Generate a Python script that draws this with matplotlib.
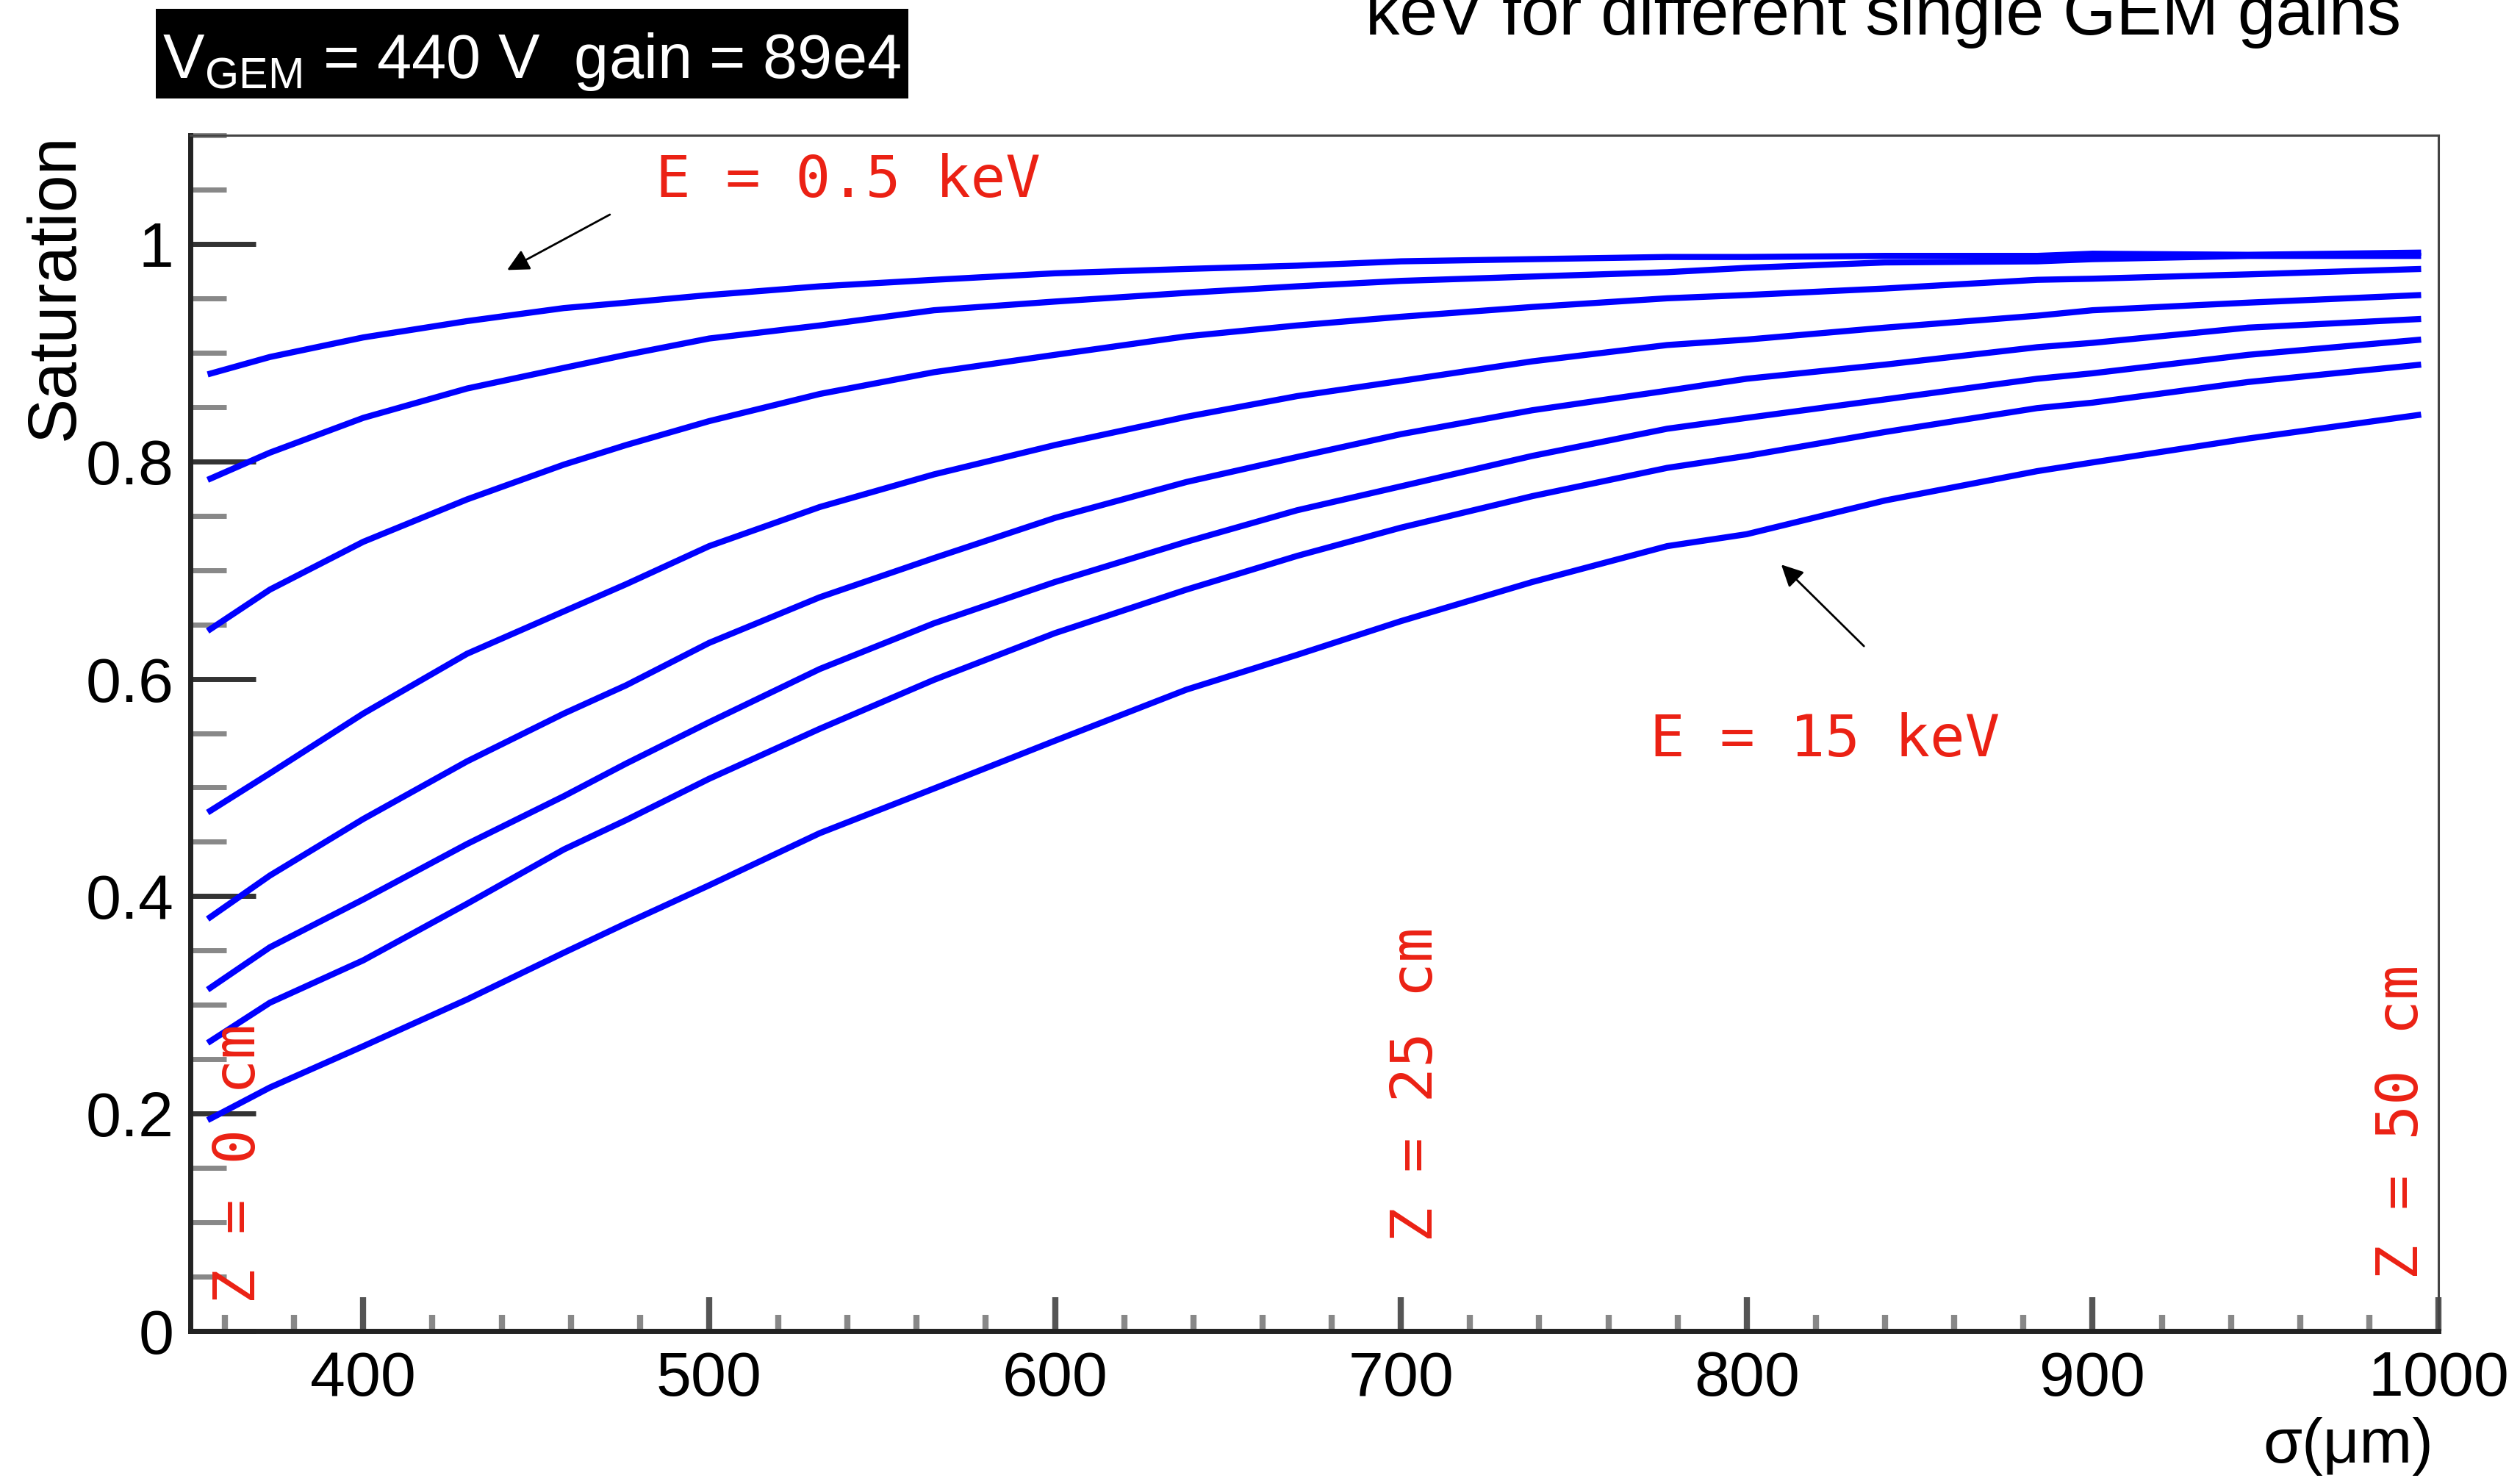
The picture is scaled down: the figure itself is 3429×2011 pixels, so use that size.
"""Saturation vs sigma for several X-ray energies (V_GEM = 440 V)."""

import matplotlib
matplotlib.use("Agg")
import matplotlib.pyplot as plt
from matplotlib.patches import Rectangle
from matplotlib.ticker import MultipleLocator

plt.rcParams["font.family"] = ["Liberation Sans", "DejaVu Sans"]
plt.rcParams["mathtext.fontset"] = "custom"
plt.rcParams["mathtext.rm"] = "Liberation Sans"

# --- data --------------------------------------------------------------
sigma = [355, 373, 400, 430, 458, 476, 500, 532, 565, 600, 638, 670,
         700, 738, 777, 800, 840, 884, 900, 945, 995]

sat_05kev = [.880, .896, .914, .929, .941, .946, .953, .961, .967, .973, .977, .980,
             .984, .986, .988, .988, .989, .989, .991, .990, .992]
sat_2 = [.783, .808, .840, .867, .886, .898, .913, .925, .939, .947, .955, .961,
         .966, .970, .974, .978, .983, .984, .986, .989, .989]
sat_3 = [.644, .682, .726, .765, .797, .815, .837, .862, .882, .898, .915, .925,
         .933, .942, .950, .953, .959, .967, .968, .972, .977]
sat_4 = [.477, .513, .568, .623, .662, .687, .722, .758, .788, .815, .841, .860,
         .874, .892, .907, .912, .923, .934, .939, .946, .953]
sat_5 = [.379, .419, .471, .524, .568, .594, .633, .675, .711, .748, .781, .804,
         .825, .847, .865, .876, .889, .905, .909, .923, .931]
sat_6 = [.314, .353, .397, .448, .492, .522, .560, .609, .651, .689, .726, .755,
         .777, .805, .830, .840, .857, .876, .881, .898, .912]
sat_7 = [.265, .302, .341, .393, .443, .470, .508, .554, .599, .642, .682, .713,
         .739, .768, .794, .805, .827, .849, .854, .873, .889]
sat_15kev = [.194, .224, .262, .305, .348, .375, .410, .458, .499, .543, .590, .622,
             .653, .689, .722, .733, .764, .791, .799, .821, .843]

curves = [sat_05kev, sat_2, sat_3, sat_4, sat_5, sat_6, sat_7, sat_15kev]

x_ticks = [400, 500, 600, 700, 800, 900, 1000]
y_ticks = [0, 0.2, 0.4, 0.6, 0.8, 1]
y_tick_labels = ["0", "0.2", "0.4", "0.6", "0.8", "1"]

RED = "#eb2114"
W, H = 3430, 2011

fig = plt.figure(figsize=(W / 100, H / 100), dpi=100)
ax = fig.add_axes([259 / W, 1 - 1811 / H, (3318 - 259) / W, (1811 - 184) / H])

for ys in curves:
    ax.plot(sigma, ys, color="#0000ff", lw=6, solid_capstyle="butt",
            solid_joinstyle="round")

ax.set_xlim(350, 1000)
ax.set_ylim(0, 1.1)
ax.set_xticks(x_ticks)
ax.set_yticks(y_ticks)
ax.set_yticklabels(y_tick_labels)
ax.xaxis.set_minor_locator(MultipleLocator(20))
ax.yaxis.set_minor_locator(MultipleLocator(0.05))

ax.tick_params(axis="y", which="major", direction="in", length=64, width=5,
               color="#333333", labelsize=62, pad=16)
ax.tick_params(axis="y", which="minor", direction="in", length=35, width=5,
               color="#888888")
ax.tick_params(axis="x", which="major", direction="in", length=33, width=6,
               color="#555555", labelsize=62, pad=19)
ax.tick_params(axis="x", which="minor", direction="in", length=16, width=6,
               color="#888888")

for side in ("left", "bottom"):
    ax.spines[side].set_linewidth(5)
    ax.spines[side].set_color("#222222")
for side in ("top", "right"):
    ax.spines[side].set_linewidth(2.2)
    ax.spines[side].set_color("#444444")

# axis titles
fig.text(100 / W, 1 - 181 / H, "Saturation", rotation=90, rotation_mode="anchor",
         ha="right", va="baseline", fontsize=66)
fig.text(3311 / W, 1 - 1990 / H, "σ(μm)", ha="right", va="baseline", fontsize=62)

# annotations
mono = dict(family="DejaVu Sans Mono", fontsize=57, color=RED, clip_on=False)
ax.text(484.5, 1.043, "E = 0.5 keV", ha="left", va="baseline", **mono)
ax.text(772.1, 0.529, "E = 15 keV", ha="left", va="baseline", **mono)
for x, y, lab in [(368.7, 0.025, "Z = 0 cm"), (709.0, 0.082, "Z = 25 cm"),
                  (994.0, 0.047, "Z = 50 cm")]:
    ax.text(x, y, lab, rotation=90, rotation_mode="anchor",
            ha="left", va="baseline", **mono)

arrow = dict(arrowstyle="-|>", color="black", lw=2, mutation_scale=45,
             shrinkA=0, shrinkB=0)
ax.annotate("", xy=(441.6, 0.976), xytext=(471.3, 1.027),
            arrowprops=arrow, annotation_clip=False)
ax.annotate("", xy=(810.0, 0.705), xytext=(833.9, 0.630),
            arrowprops=arrow, annotation_clip=False)

# black label box top-left
fig.patches.append(Rectangle((212 / W, 1 - 134 / H), (1236 - 212) / W, 122 / H,
                             transform=fig.transFigure, facecolor="black",
                             edgecolor="none"))
fig.text(221 / W, 1 - 106 / H, r"V$_{\mathregular{GEM}}$ = 440 V  gain = 89e4",
         color="white", fontsize=61, ha="left", va="baseline")

# slide title, cut off by the top edge as in the reference
fig.text(2563 / W, 1 - 47 / H, "keV for different single GEM gains",
         ha="center", va="baseline", fontsize=67)

fig.savefig("out.png", dpi=100)
